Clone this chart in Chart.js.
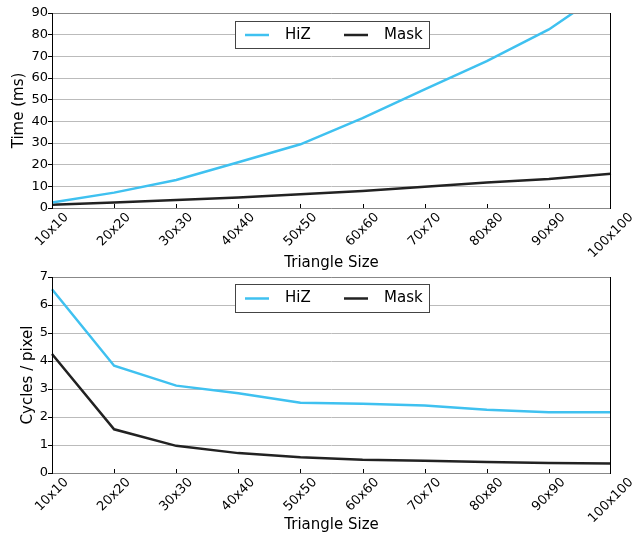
<!DOCTYPE html>
<html>
<head>
<meta charset="utf-8">
<script src="https://cdn.jsdelivr.net/npm/chart.js@4/dist/chart.umd.min.js"></script>
<style>
  body { margin: 0; background: #fff; }
  .wrap { position: relative; width: 643px; height: 536px; }
  canvas { display: block; position: absolute; left: 0; }
  #timeChart { top: 0; }
  #cycleChart { top: 260px; }
</style>
</head>
<body>
<div class="wrap">
<canvas id="timeChart" width="643" height="272"></canvas>
<canvas id="cycleChart" width="643" height="276"></canvas>
</div>
<script>
const sizes = ["10x10", "20x20", "30x30", "40x40", "50x50", "60x60", "70x70", "80x80", "90x90", "100x100"];
const hizTime = [2.5, 7.1, 12.9, 21.1, 29.4, 41.5, 54.8, 67.8, 82.4, 102];
const maskTime = [1.5, 2.5, 3.7, 4.9, 6.3, 7.8, 9.8, 11.8, 13.4, 15.8];
const hizCycles = [6.56, 3.83, 3.12, 2.85, 2.51, 2.47, 2.41, 2.26, 2.17, 2.17];
const maskCycles = [4.25, 1.56, 0.97, 0.71, 0.56, 0.47, 0.44, 0.39, 0.36, 0.34];

const HIZ_COLOR = "#3fc1f0";
const MASK_COLOR = "#222222";
const FONT = "'DejaVu Sans', sans-serif";

Chart.defaults.font.family = FONT;
Chart.defaults.color = "#000";

// frame, inside x ticks, rotated x labels and boxed legend
const framePlugin = {
  id: "frame",
  afterDatasetsDraw(chart) {
    const { ctx, chartArea: a } = chart;
    const xs = chart.scales.x;
    ctx.save();
    ctx.lineWidth = 1;
    ctx.strokeStyle = "#888";
    ctx.beginPath();
    ctx.moveTo(a.left, a.top + 0.5); ctx.lineTo(a.right, a.top + 0.5);
    ctx.moveTo(a.left, a.bottom + 0.5); ctx.lineTo(a.right, a.bottom + 0.5);
    ctx.stroke();
    ctx.strokeStyle = "#000";
    ctx.beginPath();
    ctx.moveTo(a.left + 0.5, a.top); ctx.lineTo(a.left + 0.5, a.bottom + 1);
    ctx.moveTo(a.right - 0.5, a.top); ctx.lineTo(a.right - 0.5, a.bottom + 1);
    xs.ticks.forEach((t, i) => {
      if (i === 0 || i === xs.ticks.length - 1) return;
      const px = Math.round(xs.getPixelForTick(i)) + 0.5;
      ctx.moveTo(px, a.bottom); ctx.lineTo(px, a.bottom - 4);
    });
    ctx.stroke();

    ctx.fillStyle = "#000";
    ctx.font = "13px " + FONT;
    ctx.textAlign = "center";
    ctx.textBaseline = "middle";
    xs.ticks.forEach((t, i) => {
      const label = chart.data.labels[i];
      const w = ctx.measureText(label).width;
      const half = (w + 9.5) * Math.SQRT1_2 / 2;
      ctx.save();
      ctx.translate(xs.getPixelForTick(i), a.bottom + 4 + half);
      ctx.rotate(-Math.PI / 4);
      ctx.fillText(label, 0, 0);
      ctx.restore();
    });
    ctx.restore();
  },
  afterDraw(chart, args, opts) {
    const { ctx } = chart;
    const box = opts.box;
    ctx.save();
    ctx.fillStyle = "#fff";
    ctx.fillRect(box.x, box.y, box.w, box.h);
    ctx.strokeStyle = "#444";
    ctx.lineWidth = 1;
    ctx.strokeRect(box.x + 0.5, box.y + 0.5, box.w, box.h);
    const midY = box.y + box.h / 2 + 0.5;
    ctx.font = "15px " + FONT;
    ctx.textBaseline = "middle";
    ctx.textAlign = "left";
    const starts = [245, 344];
    chart.data.datasets.forEach((ds, i) => {
      ctx.strokeStyle = ds.borderColor;
      ctx.lineWidth = 2.5;
      ctx.beginPath();
      ctx.moveTo(starts[i], midY);
      ctx.lineTo(starts[i] + 24, midY);
      ctx.stroke();
      ctx.fillStyle = "#000";
      ctx.fillText(ds.label, starts[i] + 40, midY);
    });
    ctx.restore();
  }
};

function makeChart(id, hiz, mask, yMax, yStep, yTitle, o) {
  return new Chart(document.getElementById(id), {
    type: "line",
    data: {
      labels: sizes,
      datasets: [
        { label: "HiZ", data: hiz, borderColor: HIZ_COLOR, borderWidth: 2.5, pointRadius: 0, tension: 0, fill: false },
        { label: "Mask", data: mask, borderColor: MASK_COLOR, borderWidth: 2.5, pointRadius: 0, tension: 0, fill: false }
      ]
    },
    options: {
      responsive: false,
      animation: false,
      layout: { padding: { top: o.top, right: 32, left: 0, bottom: 0 } },
      plugins: {
        legend: { display: false },
        tooltip: { enabled: false },
        frame: { box: o.box }
      },
      scales: {
        x: {
          offset: false,
          grid: { display: false },
          border: { display: false },
          ticks: { display: false },
          title: { display: true, text: "Triangle Size", font: { size: 15 }, padding: { top: 0, bottom: o.xTitlePad } },
          afterFit(scale) { scale.height = o.xHeight; scale.paddingLeft = 0; scale.paddingRight = 0; }
        },
        y: {
          min: 0,
          max: yMax,
          grid: { color: "#bbb", tickColor: "#000", tickLength: 4, drawTicks: true },
          border: { display: false },
          ticks: { stepSize: yStep, padding: 0, font: { size: 13 }, color: "#000" },
          title: { display: true, text: yTitle, font: { size: 15 }, padding: { top: o.yTitlePad, bottom: 0 } },
          afterFit(scale) { scale.width = 52; scale.paddingTop = 0; scale.paddingBottom = 0; }
        }
      }
    },
    plugins: [framePlugin]
  });
}

makeChart("timeChart", hizTime, maskTime, 90, 10, "Time (ms)",
  { top: 13, xHeight: 64, xTitlePad: 0, yTitlePad: 10, box: { x: 235, y: 21, w: 194, h: 27 } });
makeChart("cycleChart", hizCycles, maskCycles, 7, 1, "Cycles / pixel",
  { top: 17, xHeight: 63, xTitlePad: 2, yTitlePad: 19, box: { x: 235, y: 24, w: 194, h: 28 } });
</script>
</body>
</html>
